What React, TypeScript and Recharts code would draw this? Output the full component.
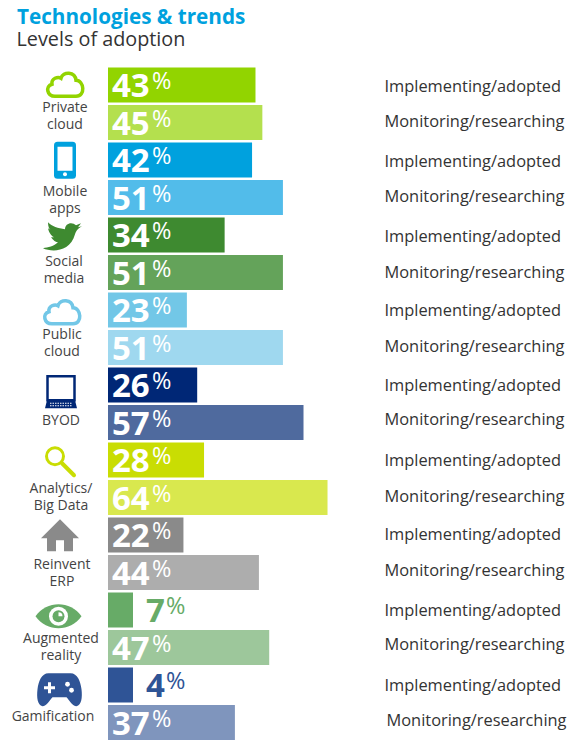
import React from 'react';
import { BarChart, Bar, XAxis, YAxis, Cell, LabelList } from 'recharts';

const technologies = ['Private cloud', 'Mobile apps', 'Social media', 'Public cloud', 'BYOD', 'Analytics/ Big Data', 'Reinvent ERP', 'Augmented reality', 'Gamification'];
const adopted = [43, 42, 34, 23, 26, 28, 22, 7, 4];
const researching = [45, 51, 51, 51, 57, 64, 44, 47, 37];
const adoptedColors = ['#92D400', '#00A1DE', '#3E8A30', '#72C7E7', '#002776', '#C9DD03', '#8A8A8A', '#67AB67', '#2F5496'];
const researchingColors = ['#B4E04E', '#52BCEA', '#64A35A', '#9FD8EF', '#4F6A9E', '#D9E84E', '#ADADAD', '#9DC79B', '#7F95BD'];
const groupLines = [['Private', 'cloud'], ['Mobile', 'apps'], ['Social', 'media'], ['Public', 'cloud'], ['BYOD'], ['Analytics/', 'Big Data'], ['Reinvent', 'ERP'], ['Augmented', 'reality'], ['Gamification']];
const statusAdopted = 'Implementing/adopted';
const statusResearching = 'Monitoring/researching';

const FONT = '"Open Sans", sans-serif';

const rows = technologies.flatMap((name, i) => [
    { key: `${name} a`, status: statusAdopted, value: adopted[i], color: adoptedColors[i] },
    { key: `${name} b`, status: statusResearching, value: researching[i], color: researchingColors[i] },
]);

const Cloud = ({ color }: { color: string }) => (
    <path d="M-10 12 C-18 12 -20 2 -13 0 C-14 -6 -7 -8 -4 -6 C-2 -13 10 -13 11 -4 C19 -4 21 12 11 12 Z" fill="none" stroke={color} strokeWidth={3.5} />
);

const icons = [
    <Cloud color="#92D400" />,
    <g>
        <rect x={-11} y={-18.5} width={22} height={37} rx={3.5} fill="#00A1DE" />
        <rect x={-7.5} y={-13.5} width={15} height={24} fill="#fff" />
        <circle cy={14} r={2} fill="#fff" />
    </g>,
    <path d="M-19 12 C-10 16 8 16 13 -2 C14 -5 15 -7 20 -10 L16 -9 L19 -13 L14 -11 C10 -15 3 -13 3 -7 C-4 -8 -10 -10 -14 -14 C-14 -10 -13 -7 -11 -6 L-14 -8 C-13 -3 -10 0 -8 1 L-11 1 C-9 4 -6 6 -4 6 C-8 10 -14 11 -19 12 Z" fill="#3E8A30" />,
    <Cloud color="#72C7E7" />,
    <g>
        <rect x={-13.5} y={-16} width={27} height={24} fill="#fff" stroke="#002776" strokeWidth={2.5} />
        <path d="M-14 8 H14 L16 16 H-16 Z" fill="#002776" />
        <path d="M-11 11 H11 M-11 13.5 H11" stroke="#fff" strokeWidth={1} strokeDasharray="1.5 1" />
    </g>,
    <g fill="none" stroke="#C9DD03">
        <circle cx={-5} cy={-5} r={8.5} strokeWidth={3} />
        <path d="M2 2 L14 14" strokeWidth={4} strokeLinecap="round" />
    </g>,
    <path d="M0 -16 L19 3 H13 V16 H4 V5 H-4 V16 H-13 V3 H-19 Z" fill="#8A8A8A" />,
    <g>
        <path d="M-23 0 C-12 -16 12 -16 23 0 C12 16 -12 16 -23 0 Z" fill="#67AB67" />
        <circle r={9.5} fill="#fff" />
        <circle r={6} fill="#67AB67" />
        <path d="M0 0 V-4 A4 4 0 0 1 4 0 Z" fill="#fff" />
    </g>,
    <g>
        <path d="M-11 -16 H11 C18 -16 21 -8 22 0 C23 8 22 16 17 17 C13 17 10 11 7 8 H-7 C-10 11 -13 17 -17 17 C-22 16 -23 8 -22 0 C-21 -8 -18 -16 -11 -16 Z" fill="#2F5496" />
        <path d="M-10 -7 V4 M-15.5 -1.5 H-4.5" stroke="#fff" strokeWidth={3} />
        <circle cx={8} cy={-5} r={2.4} fill="#fff" />
        <circle cx={12} cy={1} r={2.4} fill="#fff" />
    </g>,
];

// offsets from the first row centre of each group
const iconPlace = [[65, -1], [65, 0], [62, 1], [62, 1.5], [61, 7], [60, 1], [60, 0], [58.5, 6], [59.5, 4]];
const labelPlace = [[65, 22], [65, 31], [64, 26], [62, 24], [61, 35], [61, 28], [62, 29], [61, 28], [53, 31]];
// the status labels are hand placed in the original, so they sit a little off the rows
const statusNudge = [1, -1, 1, -1, 1, 0, 0, -1, 0, -3, 0, -1, -1, -2, 0, -3, 0, -2];

const GroupTick = ({ y, index }: any) => {
    if (index % 2 === 1) return null;
    const g = index / 2;
    return (
        <g>
            <g transform={`translate(${iconPlace[g][0]},${y + iconPlace[g][1]})`}>{icons[g]}</g>
            {groupLines[g].map((line, i) => (
                <text key={line} x={labelPlace[g][0]} y={y + labelPlace[g][1] + i * 17} dy={5} textAnchor="middle" fontFamily={FONT} fontSize={14} fill="#444">
                    {line}
                </text>
            ))}
        </g>
    );
};

const StatusTick = ({ y, index }: any) => (
    <text x={index === 17 ? 386.5 : 384.5} y={y + statusNudge[index]} dy={5.5} fontFamily={FONT} fontSize={16.4} fill="#333">
        {rows[index].status}
    </text>
);

const PercentLabel = ({ x, y, height, value, index }: any) => {
    const outside = value < 10;
    const left = outside ? 146 : x + 4;
    const fill = outside ? rows[index].color : '#fff';
    const base = y + height / 2 + 12;
    return (
        <g fontFamily={FONT} fill={fill}>
            <text x={left} y={base} fontSize={33} fontWeight={700}>{value}</text>
            <text x={left + (outside ? 20 : 40)} y={base - 8} fontSize={23.5}>%</text>
        </g>
    );
};

const App = () => (
    <div style={{ position: 'absolute', left: 0, top: 0, width: 568, height: 745, background: '#fff' }}>
        <div style={{ position: 'absolute', left: 17, top: 2, fontFamily: FONT, fontSize: 20.7, fontWeight: 700, color: '#00A1DE', whiteSpace: 'nowrap' }}>
            Technologies &amp; trends
        </div>
        <div style={{ position: 'absolute', left: 16.5, top: 25, fontFamily: FONT, fontSize: 19.8, color: '#333', whiteSpace: 'nowrap' }}>
            Levels of adoption
        </div>
        <BarChart width={568} height={745} data={rows} layout="vertical" margin={{ top: 66.5, right: 0, bottom: 3.5, left: 0 }}>
            <XAxis type="number" domain={[0, 80]} hide />
            <YAxis yAxisId="groups" type="category" dataKey="key" width={108} interval={0} axisLine={false} tickLine={false} tick={<GroupTick />} />
            <YAxis yAxisId="status" type="category" dataKey="key" orientation="right" width={185.6} interval={0} axisLine={false} tickLine={false} tick={<StatusTick />} />
            <Bar yAxisId="status" dataKey="value" barSize={35} minPointSize={25} isAnimationActive={false}>
                {rows.map((r) => <Cell key={r.key} fill={r.color} />)}
                <LabelList dataKey="value" content={<PercentLabel />} />
            </Bar>
        </BarChart>
    </div>
);

export default App;
